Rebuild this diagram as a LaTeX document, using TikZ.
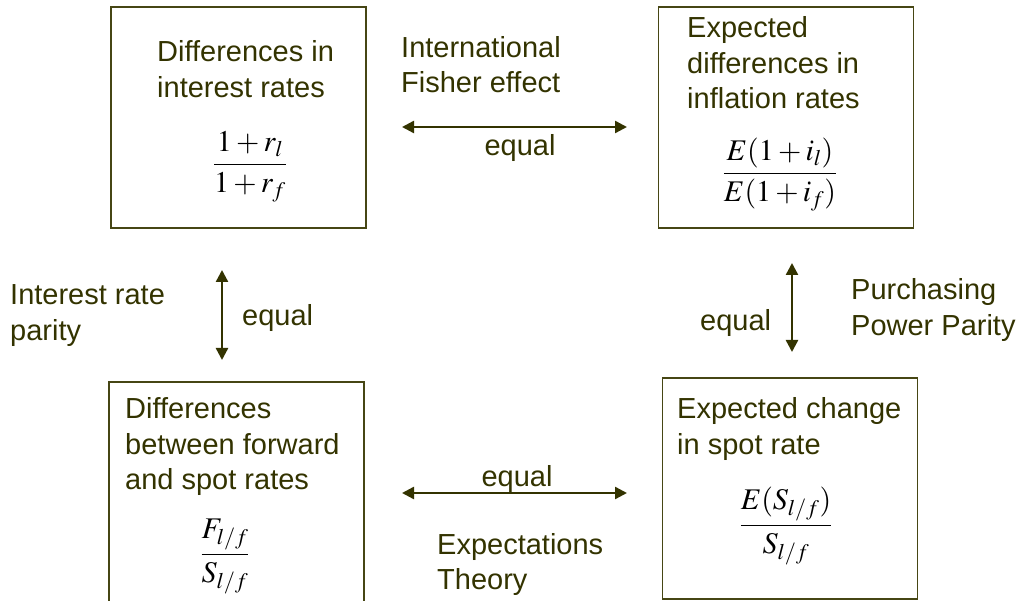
\documentclass[tikz,border=0pt]{standalone}
\usepackage{amsmath}
\usepackage{mathptmx}
\usepackage[no-math]{fontspec}
\setmainfont{Liberation Sans}
\usepackage{tikz}
\usetikzlibrary{arrows.meta, positioning, calc}
\definecolor{parityolive}{RGB}{51, 51, 0}
\definecolor{frameolive}{RGB}{70, 70, 20}
\tikzset{
    framebox/.style={rectangle, draw=frameolive, line width=1.6pt, minimum width=255pt, minimum height=221pt, inner sep=0pt},
    caption/.style={text=parityolive, align=left, anchor=base west, inner sep=0pt, font=\fontsize{29}{35.5}\selectfont},
    formula/.style={anchor=base, inner sep=0pt, font=\fontsize{30}{36}\selectfont},
    link/.style={draw=parityolive, line width=2.4pt, {Triangle[length=12pt,width=12pt]}-{Triangle[length=12pt,width=12pt]}}
}

\begin{document}
\begin{tikzpicture}[x=1pt, y=-1pt]
        \useasboundingbox (0,0) rectangle (1021,601);
        % the four boxes
        \node[framebox] (ratebox) at (238.5,117.5) {};
        \node[framebox] (inflbox) at (786,117.5) {};
        \node[framebox] (fwdbox) at (236.5,492.5) {};
        \node[framebox] (spotbox) at (790,488.5) {};

        % box titles (placed by their last line)
        \node[caption] (ratetext) at (157,97.5) {Differences in\\interest rates};
        \node[caption] (infltext) at (687,109) {Expected\\differences in\\inflation rates};
        \node[caption] (fwdtext) at (125,489.5) {Differences\\between forward\\and spot rates};
        \node[caption] (spottext) at (677,454.5) {Expected change\\in spot rate};

        \node[formula] (ratefrac) at (250,172) {$\dfrac{1+r_l}{1+r_f}$};
        \node[formula] (inflfrac) at (780,181) {$\dfrac{E(1+i_l)}{E(1+i_f)}$};
        \node[formula] (fwdfrac) at (225,562) {$\dfrac{F_{l/f}}{S_{l/f}}$};
        \node[formula] (spotfrac) at (786,533) {$\dfrac{E(S_{l/f})}{S_{l/f}}$};

        % arrow ends
        \coordinate (topW) at (402,127);
        \coordinate (topE) at (627,127);
        \coordinate (botW) at (402,493);
        \coordinate (botE) at (627,493);
        \coordinate (leftN) at (222,270);
        \coordinate (leftS) at (222,360);
        \coordinate (rightN) at (792,263);
        \coordinate (rightS) at (792,352);

        \draw[link] (topW) -- (topE);
        \draw[link] (botW) -- (botE);
        \draw[link] (leftN) -- (leftS);
        \draw[link] (rightN) -- (rightS);

        \node[caption] (fisher) at (401,93) {International\\Fisher effect};
        \node[caption, anchor=base] (topeq) at (520,156) {equal};
        \node[caption, anchor=base] (boteq) at (517,487) {equal};
        \node[caption] (expect) at (437,590) {Expectations\\Theory};
        \node[caption] (irp) at (10,340.5) {Interest rate\\parity};
        \node[caption] (lefteq) at (242,326) {equal};
        \node[caption] (righteq) at (700,331) {equal};
        \node[caption] (ppp) at (851,335.5) {Purchasing\\Power Parity};
    \end{tikzpicture}
\end{document}
